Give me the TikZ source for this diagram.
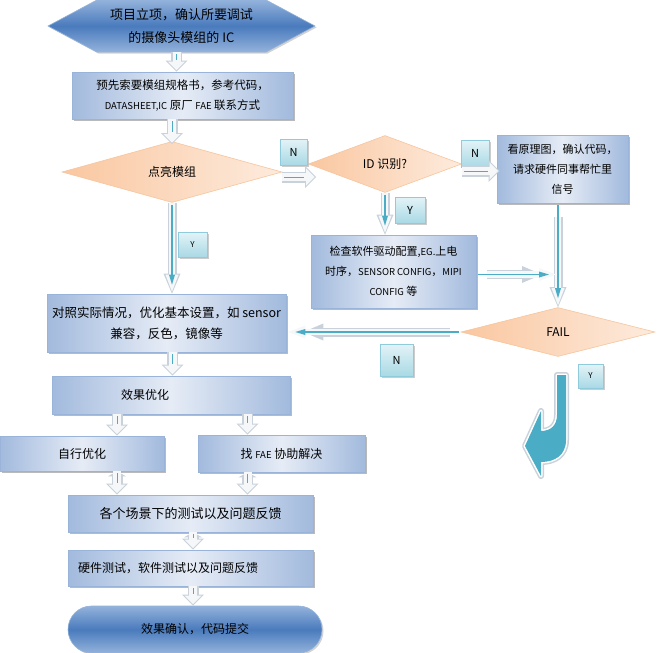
\documentclass[tikz,border=0pt]{standalone}
\usepackage{fontspec}
\setmainfont{Noto Sans CJK SC}
\usetikzlibrary{arrows.meta,shapes.geometric,shapes.misc,shapes.symbols,shadows}

\definecolor{boxdark}{HTML}{A2BADD}
\definecolor{boxlight}{HTML}{E6ECF6}
\definecolor{boxline}{HTML}{9AB3D8}
\definecolor{peach}{HTML}{FAC7A0}
\definecolor{peachlight}{HTML}{FDEBDD}
\definecolor{peachline}{HTML}{F7C59C}
\definecolor{steel}{HTML}{4A7BBD}
\definecolor{steellight}{HTML}{93B2DB}
\definecolor{tagtop}{HTML}{E3F3F7}
\definecolor{tagbottom}{HTML}{A9D9E5}
\definecolor{tagline}{HTML}{8FCBDA}
\definecolor{flowteal}{HTML}{4BACC6}
\definecolor{flowedge}{HTML}{C9D2DA}
\definecolor{flowfill}{HTML}{F5F7F9}

% smaller latin words inside the chinese lines
\newcommand{\lat}[1]{{\fontsize{9.5}{20}\selectfont #1}}

\begin{document}
\begin{tikzpicture}[x=1pt, y=-1pt]
    \tikzset{
        % light blue process boxes
        stepbox/.style={draw=boxline, line width=0.6pt,
            left color=boxdark, right color=boxdark, middle color=boxlight,
            drop shadow={shadow xshift=2pt, shadow yshift=-2pt, fill=black!45, opacity=0.6},
            inner sep=0pt, align=center, font=\fontsize{12}{20}\selectfont},
        % peach questions
        decision/.style={diamond, draw=peachline, line width=0.6pt,
            left color=peach, right color=peachlight,
            inner sep=0pt, font=\fontsize{12}{14}\selectfont},
        % dark blue start and end
        terminal/.style={draw=steellight, line width=0.6pt,
            top color=steellight, bottom color=steellight, middle color=steel,
            drop shadow={shadow xshift=1.5pt, shadow yshift=-1.5pt, fill=black!35, opacity=0.5},
            inner sep=0pt, align=center, font=\fontsize{12}{23}\selectfont},
        % Y / N tags
        tag/.style={draw=tagline, line width=0.6pt, top color=tagtop, bottom color=tagbottom,
            drop shadow={shadow xshift=1.5pt, shadow yshift=-1.5pt, fill=black!40, opacity=0.5},
            inner sep=0pt, font=\fontsize{11}{12}\selectfont},
        % short hollow arrows
        flow/.style={draw=flowedge, line width=11pt,
            -{Triangle[width=22pt,length=11pt,line width=0pt]},
            postaction={draw=flowfill, line width=8pt,
                -{Triangle[width=17pt,length=8.5pt,line width=0pt]}, shorten >=1.5pt},
            postaction={draw=flowteal, line width=1pt, -, shorten >=12pt, shorten <=2pt}},
        % hollow arrows with a flange at the start
        twin/.style={flow,
            {Triangle[width=18pt,length=5pt,line width=0pt]}-{Triangle[width=22pt,length=11pt,line width=0pt]}},
        % long arrows with a teal tip inside
        branch/.style={draw=flowedge, line width=9pt,
            -{Triangle[width=17pt,length=20pt,line width=0pt]},
            postaction={draw=flowfill, line width=6.5pt,
                -{Triangle[width=13pt,length=17pt,line width=0pt]}, shorten >=2pt},
            postaction={draw=flowteal, line width=1.5pt,
                -{Triangle[width=6pt,length=10pt,line width=0pt]}, shorten >=9pt, shorten <=2pt}}
    }
    \useasboundingbox (0,0) rectangle (659,653);

    % Start and end
    \node[terminal, signal, signal to=west and east, signal pointer angle=56,
        minimum width=267pt, minimum height=52pt, font=\fontsize{13}{23}\selectfont]
        (start) at (181.5,26) {项目立项，确认所要调试\\的摄像头模组的 IC};
    \node[terminal, rounded rectangle, minimum width=254pt, minimum height=47pt]
        (finish) at (195,629.5) {效果确认，代码提交};

    % Left column
    \node[stepbox, minimum width=221pt, minimum height=47pt, font=\fontsize{11.5}{20}\selectfont]
        (spec) at (182.5,95.5) {预先索要模组规格书，参考代码，\\\lat{DATASHEET,IC} 原厂 \lat{FAE} 联系方式};
    \node[decision, minimum width=220pt, minimum height=61pt] (light) at (172,172) {点亮模组};
    \node[stepbox, minimum width=239pt, minimum height=58pt, font=\fontsize{12.5}{21}\selectfont]
        (tune) at (166.5,323) {对照实际情况，优化基本设置，如 sensor\\兼容，反色，镜像等};
    \node[stepbox, minimum width=238pt, minimum height=38pt] (effect) at (171,395) {\makebox[100pt][l]{效果优化}};
    \node[stepbox, minimum width=164pt, minimum height=35pt] (self) at (82,453.5) {自行优化};
    \node[stepbox, minimum width=167pt, minimum height=37pt] (fae) at (281.5,453.5) {找 \lat{FAE} 协助解决};
    \node[stepbox, minimum width=245pt, minimum height=37pt, font=\fontsize{13}{20}\selectfont]
        (scene) at (190.5,513.5) {各个场景下的测试以及问题反馈};
    \node[stepbox, minimum width=245pt, minimum height=36pt]
        (hwtest) at (190.5,568) {\makebox[225pt][l]{硬件测试，软件测试以及问题反馈}};

    % Right part
    \node[decision, minimum width=153pt, minimum height=57pt] (idcheck) at (385,164) {ID 识别?};
    \node[stepbox, minimum width=131pt, minimum height=68pt, font=\fontsize{11}{20}\selectfont]
        (schem) at (562.5,169) {看原理图，确认代码，\\请求硬件同事帮忙里\\信号};
    \node[stepbox, minimum width=165pt, minimum height=73pt, font=\fontsize{11}{20}\selectfont]
        (driver) at (393.5,271.5) {检查软件驱动配置,\lat{EG.}上电\\时序，\lat{SENSOR CONFIG}，\lat{MIPI}\\\lat{CONFIG} 等};
    \node[decision, minimum width=194pt, minimum height=49pt] (fail) at (558,332) {FAIL};

    % Tags
    \node[tag, minimum width=27pt, minimum height=26pt] (n1) at (293.5,152) {N};
    \node[tag, minimum width=29pt, minimum height=25pt, font=\fontsize{8}{8}\selectfont] (y1) at (192.5,244.5) {Y};
    \node[tag, minimum width=28pt, minimum height=27pt] (n2) at (475,153.5) {N};
    \node[tag, minimum width=30pt, minimum height=26pt] (y2) at (410,210) {Y};
    \node[tag, minimum width=33pt, minimum height=32pt] (n3) at (396.5,360) {N};
    \node[tag, minimum width=25pt, minimum height=24pt, font=\fontsize{8}{8}\selectfont] (y3) at (590.5,376) {Y};

    % Edges
    \draw[flow] ([xshift=-5pt]start.south) -- ([xshift=-5pt]start.south |- spec.north);
    \draw[flow] (spec.south -| light.north) -- ([yshift=-3pt]light.north);
    \draw[branch] (light.south) -- (light.south |- tune.north);
    \draw[flow] ([yshift=-5pt]light.east) -- ([yshift=-5pt,xshift=8pt]light.east -| idcheck.west);
    \draw[flow] ([yshift=-7pt]idcheck.east) -- ([yshift=-7pt,xshift=3pt]idcheck.east -| schem.west);
    \draw[branch] (idcheck.south) -- (idcheck.south |- driver.north);
    \draw[branch, shorten <=14pt] (schem.south -| fail.north) -- (fail.north);
    \coordinate (merge) at (fail.north |- driver.east);
    \draw[branch, shorten <=11pt, shorten >=16pt] ([yshift=-3pt]driver.east) -- ([yshift=-3pt]merge);
    \draw[branch, shorten <=11pt, shorten >=17pt] (fail.west) -- (fail.west -| tune.east);

    \draw[flow] ([xshift=6pt]tune.south) -- ([xshift=6pt]tune.south |- effect.north);
    \draw[flow] ([xshift=35pt]self.north |- effect.south) -- ([xshift=35pt]self.north);
    \draw[flow] ([xshift=-34pt]fae.north |- effect.south) -- ([xshift=-34pt]fae.north);
    \draw[twin] ([xshift=35pt]self.south) -- ([xshift=35pt]self.south |- scene.north);
    \draw[twin] ([xshift=-34pt]fae.south) -- ([xshift=-34pt]fae.south |- scene.north);
    \draw[twin] ([xshift=2.5pt]scene.south) -- ([xshift=2.5pt]scene.south |- hwtest.north);
    \draw[flow] ([xshift=2.5pt]hwtest.south) -- ([xshift=2.5pt]hwtest.south |- finish.north);

    % bent exit below FAIL
    \draw[flowedge, line width=6pt, line join=round,
        postaction={draw=white, line width=3pt, line join=round},
        postaction={fill=flowteal}]
        (557,375) -- (566,375) -- (566,440) .. controls (566,455) and (555,462) .. (541,462)
        -- (541,476) -- (525,446) -- (541,411) -- (541,431)
        .. controls (551,431) and (557,425) .. (557,415) -- cycle;
\end{tikzpicture}
\end{document}
